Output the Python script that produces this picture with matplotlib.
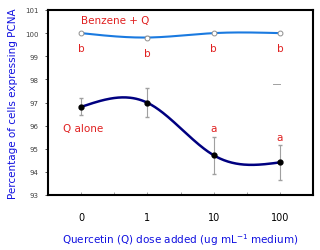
import numpy as np
import matplotlib
matplotlib.use("Agg")
import matplotlib.pyplot as plt

categories = ["0", "1", "10", "100"]
benzene_q = [100.0, 99.81, 100.0, 100.0]
benzene_err = [0.0, 0.08, 0.0, 0.0]
q_alone = [96.81, 96.99, 94.72, 94.41]
q_alone_err = [0.37, 0.62, 0.80, 0.75]
benzene_letters = ["b", "b", "b", "b"]
q_letters = ["", "", "a", "a"]


def natural_spline(x, y, n=200):
    x = np.asarray(x, float); y = np.asarray(y, float)
    k = len(x)
    h = np.diff(x)
    A = np.zeros((k, k)); r = np.zeros(k)
    A[0, 0] = A[-1, -1] = 1
    for i in range(1, k - 1):
        A[i, i - 1] = h[i - 1]; A[i, i] = 2 * (h[i - 1] + h[i]); A[i, i + 1] = h[i]
        r[i] = 3 * ((y[i + 1] - y[i]) / h[i] - (y[i] - y[i - 1]) / h[i - 1])
    c = np.linalg.solve(A, r)
    xs = np.linspace(x[0], x[-1], n); ys = np.empty_like(xs)
    for j, xv in enumerate(xs):
        i = min(np.searchsorted(x, xv, side="right") - 1, k - 2)
        b = (y[i + 1] - y[i]) / h[i] - h[i] * (2 * c[i] + c[i + 1]) / 3
        d = (c[i + 1] - c[i]) / (3 * h[i])
        t = xv - x[i]
        ys[j] = y[i] + b * t + c[i] * t ** 2 + d * t ** 3
    return xs, ys


fig = plt.figure(figsize=(3.2, 2.51), dpi=100)
ax = fig.add_axes([48 / 320, 1 - 196 / 251, 265 / 320, 185 / 251])
x = np.arange(len(categories))

xs, ys = natural_spline(x, benzene_q)
ax.plot(xs, ys, color="#1a7ae0", lw=1.5, zorder=2)
ax.errorbar(x, benzene_q, yerr=benzene_err, fmt="none", ecolor="#a0a0a0", elinewidth=0.8, capsize=1.5, zorder=3)
ax.plot(x, benzene_q, "o", ms=3.5, mfc="white", mec="#909090", mew=0.7, zorder=4)

xs, ys = natural_spline(x, q_alone)
ax.plot(xs, ys, color="#000080", lw=1.8, zorder=2)
ax.errorbar(x, q_alone, yerr=q_alone_err, fmt="none", ecolor="#a0a0a0", elinewidth=0.8, capsize=1.5, zorder=3)
ax.plot(x, q_alone, "o", ms=3.5, mfc="black", mec="black", zorder=4)

for xi, v, lab in zip(x, benzene_q, benzene_letters):
    ax.annotate(lab, (xi, v), xytext=(0, -11), textcoords="offset points", ha="center", va="center", color="#e02020", fontsize=7.5)
for xi, v, e, lab in zip(x, q_alone, q_alone_err, q_letters):
    if lab:
        ax.annotate(lab, (xi, v + e), xytext=(0, 6), textcoords="offset points", ha="center", va="center", color="#e02020", fontsize=7.5)

ax.text(0.0, 100.55, "Benzene + Q", color="#e02020", fontsize=7.5, ha="left", va="center")
ax.text(-0.27, 95.9, "Q alone", color="#e02020", fontsize=7.5, ha="left", va="center")
ax.plot([2.9, 3.0], [97.8, 97.8], color="#a0a0a0", lw=0.7)

ax.set_xlim(-0.45, 3.5)
ax.set_ylim(93, 101)
ax.set_xticks(x)
ax.set_xticklabels(categories, fontsize=7)
ax.set_xticks(np.arange(-0.5, 3.6, 0.5), minor=True)
ax.set_yticks(np.arange(93, 102, 1))
ax.tick_params(axis="y", labelsize=5, colors="#404040", length=2, width=0.6, pad=5)
ax.tick_params(axis="x", which="both", length=2, width=0.6, colors="#909090", labelcolor="black", pad=12, direction="in")
for s in ax.spines.values():
    s.set_linewidth(1.5)
ax.set_ylabel("Percentage of cells expressing PCNA", color="#1010e0", fontsize=7.5, labelpad=5)
ax.set_xlabel("Quercetin (Q) dose added (ug mL$^{-1}$ medium)", color="#1010e0", fontsize=7.5, labelpad=7)
fig.savefig("out.png", dpi=100)
